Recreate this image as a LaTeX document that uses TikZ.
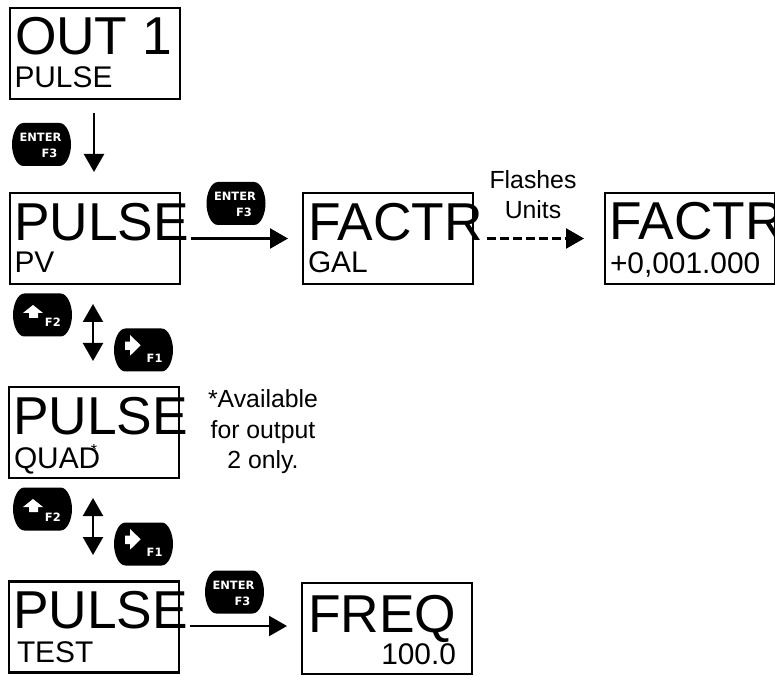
\documentclass[tikz,border=0pt]{standalone}
\usepackage{fontspec}
\setmainfont{Liberation Sans}
\newfontfamily\keyfont{DejaVu Sans Bold}
\usetikzlibrary{arrows.meta}
\tikzset{
  x=0.75pt,y=-0.75pt,
  lcd/.style={draw=black,line width=2.1pt,minimum width=127.5pt,minimum height=68.25pt,inner sep=0pt,outer sep=0pt},
  big/.style={anchor=base west,inner sep=0pt,outer sep=0pt,font=\fontsize{40}{40}\selectfont},
  small/.style={anchor=base west,inner sep=0pt,outer sep=0pt,font=\fontsize{22.4}{22.4}\selectfont},
  note/.style={anchor=base,inner sep=0pt,outer sep=0pt,font=\fontsize{18.6}{18.6}\selectfont},
  keylabel/.style={anchor=base west,inner sep=0pt,outer sep=0pt,text=white,font=\keyfont\fontsize{8.6}{8.6}\selectfont},
  arr/.style={line width=1.8pt,-{Triangle[length=13.5pt,width=15pt]}},
  darr/.style={line width=1.8pt,{Triangle[length=13.5pt,width=15pt]}-{Triangle[length=13.5pt,width=15pt]}},
  keybody/.pic={\fill[black] (-18,-21.5) -- (18,-21.5) .. controls (25,-21.5) and (29.5,-10) .. (29.5,0) .. controls (29.5,10) and (25,21.5) .. (18,21.5) -- (-18,21.5) .. controls (-25,21.5) and (-29.5,10) .. (-29.5,0) .. controls (-29.5,-10) and (-25,-21.5) .. (-18,-21.5) -- cycle;},
  enterkey/.pic={\pic{keybody};
    \node[keylabel] at (-22,-2.5) {ENTER};
    \node[keylabel] at (0,13.5) {F3};},
  upkey/.pic={\pic{keybody};
    \fill[white] (-13.5,-2) -- (-19.5,-2) -- (-9.5,-10) -- (0.5,-2) -- (-4.5,-2) -- (-4.5,3) -- (-13.5,3) -- cycle;
    \node[keylabel] at (2.5,12) {F2};},
  rightkey/.pic={\pic{keybody};
    \fill[white] (-18.5,-8.3) -- (-13.5,-8.3) -- (-13.5,-15) -- (-2.8,-4.7) -- (-13.5,5.7) -- (-13.5,0) -- (-18.5,0) -- cycle;
    \node[keylabel] at (3.2,12.7) {F1};},
}
\begin{document}
\begin{tikzpicture}
\useasboundingbox (0,0) rectangle (775,677);
\clip (0,0) rectangle (775,677);
% boxes
\node[lcd] (out) at (95,53.5) {};
\node[lcd] (pv) at (95,238.5) {};
\node[lcd] (quad) at (94,432.5) {};
\node[lcd] (test) at (94,627) {};
\node[lcd] (gal) at (388,238.5) {};
\node[lcd] (val) at (690,238.5) {};
\node[lcd] (freq) at (387,628.5) {};
% display texts
\node[big] (t1) at (15,55) {OUT 1};
\node[small] (t2) at (14.5,88) {PULSE};
\node[big] (t3) at (14,241) {PULSE};
\node[small] (t4) at (14.5,273) {PV};
\node[big] (t5) at (13,434) {PULSE};
\node[small] (t6) at (14,468) {QUAD};
\node[anchor=base,inner sep=0pt,font=\fontsize{12}{12}\selectfont] (t6s) at (94,455) {*};
\node[big] (t7) at (13,628) {PULSE};
\node[small] (t8) at (17,662) {TEST};
\node[big] (t9) at (308,241) {FACTR};
\node[small] (t10) at (308,273) {GAL};
\node[big] (t11) at (609,240) {FACTR};
\node[small] (t12) at (610,274) {+0,001.000};
\node[big] (t13) at (308,632) {FREQ};
\node[small,anchor=base east] (t14) at (456,664) {100.0};
% notes
\node[note] (n1) at (533,189) {Flashes};
\node[note] (n2) at (533,219) {Units};
\node[note] (n3) at (263,407) {*Available};
\node[note] (n4) at (263,438) {for output};
\node[note] (n5) at (263,468) {2 only.};
% keys
\pic at (41.5,144.5) {enterkey};
\pic at (236,203.5) {enterkey};
\pic at (42.5,315) {upkey};
\pic at (143.5,350) {rightkey};
\pic at (42.5,509) {upkey};
\pic at (143.5,544) {rightkey};
\pic at (234.5,592) {enterkey};
% connectors
\coordinate (a1s) at (94,113);
\coordinate (a1e) at (94,172);
\draw[arr] (a1s) -- (a1e);
\coordinate (a2s) at (191,238.5);
\coordinate (a2e) at (288,238.5);
\draw[arr] (a2s) -- (a2e);
\coordinate (a3s) at (487,238.5);
\coordinate (a3e) at (584,238.5);
\draw[arr,dash pattern=on 6.75pt off 3pt] (a3s) -- (a3e);
\coordinate (a4s) at (93,304);
\coordinate (a4e) at (93,361);
\draw[darr] (a4s) -- (a4e);
\coordinate (a5s) at (93,498);
\coordinate (a5e) at (93,555);
\draw[darr] (a5s) -- (a5e);
\coordinate (a6s) at (190,626);
\coordinate (a6e) at (287,626);
\draw[arr] (a6s) -- (a6e);
\end{tikzpicture}
\end{document}
